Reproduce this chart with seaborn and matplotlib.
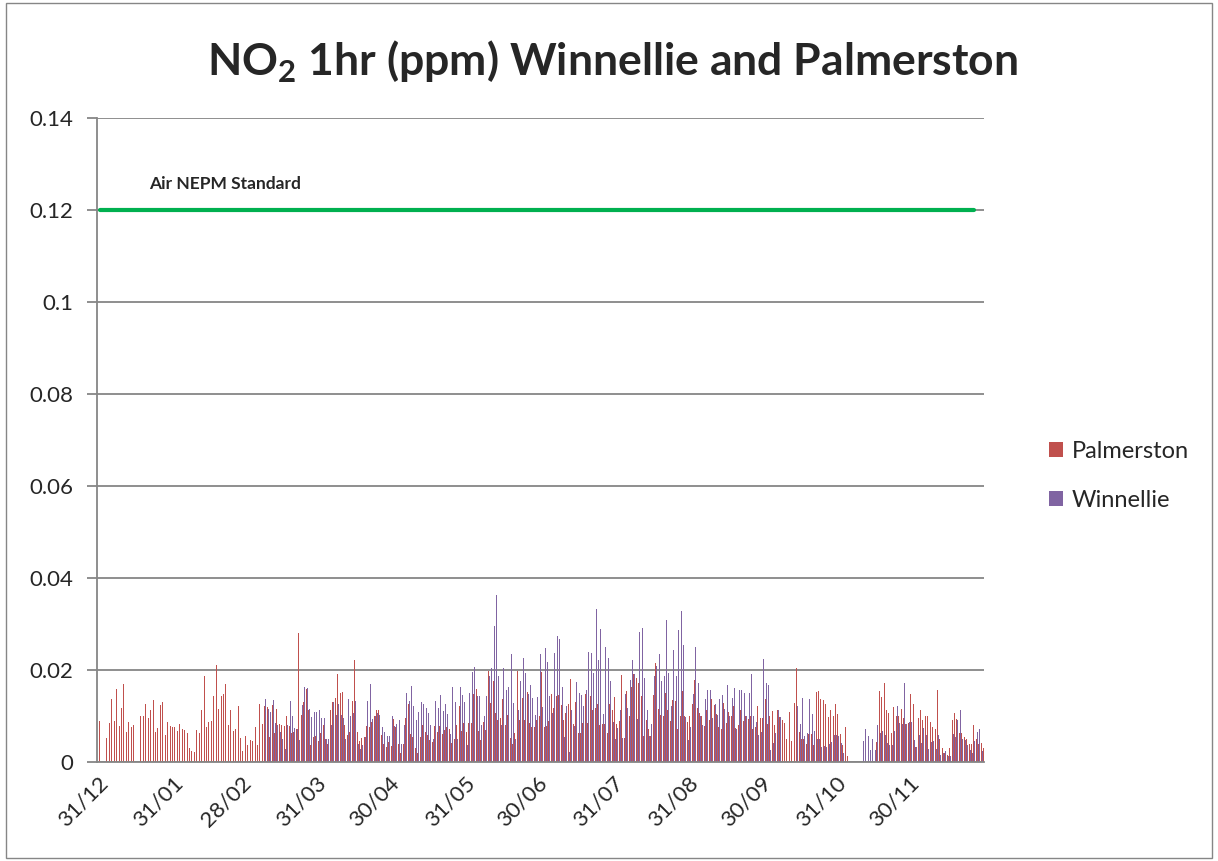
import numpy as np
import pandas as pd
import matplotlib
matplotlib.use("Agg")
import matplotlib.pyplot as plt
from matplotlib.patches import Patch, Rectangle
import seaborn as sns

# Daily maximum 1hr NO2, in ppb (converted to ppm below).
# One value per day from 1 Jan, None = no data that day
palmerston_ppb = [
    9.0, None, None, 5.3, 8.5, 13.8, 9.0, 15.8, 7.9, 11.8,
    17.0, 6.6, 8.8, 7.7, 8.1, None, None, 9.9, 9.9, 12.5,
    9.6, 11.2, 13.5, 6.6, 7.4, 12.3, 13.1, 5.9, 8.8, 7.8,
    7.5, 7.7, 6.7, 8.2, 7.1, 7.0, 6.2, 3.1, 2.3, 2.2,
    7.0, 6.4, 11.4, 18.7, 7.7, 8.6, 8.9, 14.3, 21.0, 11.6,
    14.3, 14.7, 16.9, 8.1, 11.2, 6.8, 7.2, 12.2, 5.3, 2.4,
    5.7, 3.7, 4.8, 4.6, 7.7, 3.7, 12.5, 8.3, 12.2, 12.0,
    5.5, 12.4, 6.3, 11.5, 8.3, 8.1, 7.8, 10.1, 7.9, 6.4,
    6.6, 7.2, 28.0, 10.3, 13.0, 15.9, 11.4, 3.7, 5.4, 5.7,
    4.6, 6.3, 8.0, 5.0, 4.0, 11.4, 13.1, 13.9, 19.1, 15.0,
    15.2, 8.1, 5.8, 6.6, 13.2, 22.2, 6.6, 4.6, 5.2, 5.4,
    7.8, 7.5, 8.7, 10.1, 11.4, 11.4, 5.9, 4.0, 3.3, 4.3,
    3.5, 9.3, 7.7, 4.0, 2.0, 4.0, 9.6, 12.5, 6.1, 5.4,
    3.0, 2.0, 5.5, 8.1, 6.5, 5.8, 4.8, 4.4, 7.9, 6.6,
    7.9, 6.1, 7.0, 7.7, 7.1, 4.2, 5.0, 8.0, 12.2, 6.8,
    8.4, 6.6, 8.5, 8.5, 14.7, 15.8, 6.8, 4.8, 8.6, 7.0,
    19.8, 12.8, 17.5, 10.6, 9.1, 9.6, 13.6, 8.1, 10.3, 5.2,
    4.0, 6.4, 19.7, 9.1, 13.9, 9.1, 15.2, 8.4, 7.7, 7.7,
    9.1, 10.1, 19.6, 7.7, 7.9, 9.0, 14.8, 11.7, 14.3, 14.5,
    12.3, 9.1, 10.7, 12.7, 18.1, 8.3, 13.0, 6.3, 6.4, 8.5,
    14.8, 8.4, 14.4, 11.2, 11.7, 12.5, 8.1, 8.2, 8.2, 6.4,
    12.7, 11.3, 14.1, 8.2, 9.0, 18.9, 5.3, 15.4, 10.0, 16.2,
    19.2, 18.3, 17.1, 14.4, 5.7, 9.1, 7.2, 5.7, 14.6, 21.5,
    11.6, 10.2, 10.1, 15.0, 11.3, 9.0, 13.5, 13.2, 7.2, 9.9,
    15.4, 10.1, 8.7, 10.0, 12.5, 17.8, 11.7, 10.7, 10.1, 7.8,
    11.3, 9.1, 13.8, 12.3, 10.4, 7.5, 7.2, 12.9, 8.4, 10.9,
    10.1, 12.2, 7.4, 8.1, 11.3, 9.0, 9.9, 9.4, 9.9, 7.2,
    7.7, 12.2, 9.5, 9.5, 13.8, 8.3, 10.1, 11.0, 8.0, 11.4,
    9.7, 9.1, 8.4, 5.1, 10.9, 4.6, 12.8, 20.4, 6.6, 5.0,
    5.0, 4.0, 6.0, 6.0, 3.7, 15.3, 15.5, 13.7, 13.5, 12.5,
    9.8, 11.2, 10.1, 12.5, 10.4, 6.1, 3.7, 7.5, 1.3, None,
    None, None, None, None, None, None, None, None, None, None,
    4.4, 15.5, 14.2, 17.1, 11.4, 10.7, 6.2, 12.0, 10.0, 10.0,
    11.6, 9.6, 8.3, 8.4, 14.8, 12.6, 3.3, 9.6, 11.2, 9.1,
    10.0, 9.9, 8.8, 7.5, 7.2, 15.7, 5.0, 3.0, 1.9, 1.5,
    3.0, 9.1, 10.6, 9.3, 6.2, 6.2, 5.4, 5.1, 4.0, 4.0,
    8.0, 4.9, 4.0, 4.2, 3.0,
]

winnellie_ppb = [None] * 68 + [
    13.8, 11.6,
    10.8, 13.4, 8.4, 8.0, 6.5, 4.9, 2.8, 8.0, 13.3, 10.0,
    7.4, 7.2, 4.7, 12.3, 16.2, 16.0, 11.6, 9.7, 10.8, 10.8,
    11.4, 9.6, 9.6, 5.0, 5.0, 8.1, 13.1, 10.3, 12.5, 10.3,
    9.5, 5.0, 13.6, 10.1, 10.6, 13.2, 4.0, 2.8, 3.6, 5.4,
    13.2, 16.9, 9.4, 10.0, 10.7, 10.3, 7.5, 6.6, 5.6, 5.7,
    10.0, 7.9, 8.3, 9.1, 4.0, 8.0, 14.9, 13.3, 16.5, 12.2,
    9.1, 10.9, 13.0, 12.5, 11.8, 10.6, 8.0, 5.0, 13.3, 11.7,
    14.5, 11.0, 12.5, 10.4, 6.0, 16.2, 13.0, 5.0, 16.4, 14.6,
    13.0, 3.6, 15.0, 19.6, 20.6, 14.3, 14.3, 8.1, 10.1, 14.3,
    18.8, 20.4, 29.6, 36.3, 18.8, 8.0, 20.4, 15.7, 16.2, 23.5,
    12.8, 5.0, 11.3, 17.7, 22.5, 19.4, 14.8, 16.7, 14.0, 10.3,
    14.2, 23.5, 12.0, 24.8, 21.7, 14.3, 10.6, 23.7, 27.4, 26.7,
    16.4, 5.4, 12.2, 2.2, 11.2, 7.9, 17.3, 15.0, 14.5, 12.1,
    15.7, 23.9, 23.8, 19.3, 33.3, 22.2, 28.8, 10.4, 25.1, 22.7,
    17.6, 8.8, 5.0, 7.4, 11.3, 5.2, 14.7, 11.7, 17.8, 22.2,
    19.2, 9.3, 28.3, 29.2, 18.2, 11.2, 5.7, 8.2, 18.6, 20.9,
    23.5, 17.5, 18.8, 30.9, 19.3, 12.2, 24.3, 18.7, 28.7, 32.9,
    25.4, 9.8, 4.8, 7.7, 14.7, 25.1, 17.2, 10.0, 8.0, 13.6,
    15.7, 15.7, 9.6, 12.6, 10.3, 13.6, 14.5, 11.5, 16.8, 10.1,
    13.9, 16.0, 7.1, 15.7, 15.7, 15.0, 10.0, 15.0, 19.1, 9.9,
    8.8, 5.9, 6.6, 22.4, 17.1, 16.7, 2.6, 4.1, 6.4, 11.3,
    9.8, None, None, None, None, None, None, 12.2, 8.3, 14.0,
    5.6, 6.3, 13.8, 10.4, 6.8, 5.1, 5.1, 3.3, 3.5, 3.3,
    3.9, 4.4, 5.9, 5.9, 5.7, 4.2, 2.0, None, None, None,
    None, None, None, None, 4.5, 7.2, 5.6, 2.7, 5.1, 2.6,
    8.1, 6.2, 6.7, 5.9, 4.2, 3.8, 3.8, 6.8, 12.2, 8.5,
    8.2, 17.2, 8.3, 8.7, 8.7, 4.8, 3.3, 5.8, 4.2, 7.3,
    5.8, 2.8, 4.4, 4.6, 2.9, 5.8, 1.5, 1.9, 2.3, 1.3,
    1.3, 6.0, 5.4, 9.1, 11.4, 5.1, 4.8, 3.7, 2.6, 1.9,
    4.6, 6.5, 7.2, 2.4, 2.0,
]

# NEPM 1hr standard, drawn from the first to the last plotted day of the line
standard_ppm = 0.12
standard_days = [0, 360]
tick_days = [-1, 30, 58, 89, 119, 150, 180, 211, 242, 272, 303, 333]
tick_labels = ['31/12', '31/01', '28/02', '31/03', '30/04', '31/05',
               '30/06', '31/07', '31/08', '30/09', '31/10', '30/11']
y_ticks = [0, 0.02, 0.04, 0.06, 0.08, 0.1, 0.12, 0.14]
y_labels = ['0', '0.02', '0.04', '0.06', '0.08', '0.1', '0.12', '0.14']
sites = ['Palmerston', 'Winnellie']
colors = {'Palmerston': '#C0504D', 'Winnellie': '#8064A2'}

n = len(palmerston_ppb)
assert len(winnellie_ppb) == n, (n, len(winnellie_ppb))
days = np.arange(n)

# long format table for seaborn
df = pd.DataFrame({
    'Day': np.concatenate([days, days]),
    'Site': ['Palmerston'] * n + ['Winnellie'] * n,
    'NO2': [np.nan if v is None else v / 1000 for v in palmerston_ppb + winnellie_ppb],
})
df = df.dropna()

sns.set_style("white")
plt.rcParams['font.family'] = ['Lato', 'DejaVu Sans']
plt.rcParams['mathtext.fontset'] = 'custom'
plt.rcParams['mathtext.rm'] = 'Lato:bold'
plt.rcParams['mathtext.bf'] = 'Lato:bold'

fig = plt.figure(figsize=(12.18, 8.61), dpi=100)
ax = fig.add_axes([0.0796, 0.115, 0.728, 0.748])

sns.barplot(data=df, x='Day', y='NO2', hue='Site', hue_order=sites,
            palette=colors, native_scale=True, errorbar=None, width=0.8,
            saturation=1, linewidth=0, legend=False, ax=ax)

# NEPM standard line
sns.lineplot(x=standard_days, y=[standard_ppm] * len(standard_days),
             color='#00B050', linewidth=3, ax=ax)
ax.text(20, 0.1245, 'Air NEPM Standard', fontsize=12.5, fontweight='bold')

ax.set_xlim(-1.3, 363.8)
ax.set_ylim(0, 0.14)
ax.set_yticks(y_ticks)
ax.set_yticklabels(y_labels, fontsize=16)
ax.set_xticks(tick_days)
ax.set_xticklabels(tick_labels, fontsize=16, rotation=45, ha='right',
                   rotation_mode='anchor')
ax.set_xlabel('')
ax.set_ylabel('')
ax.yaxis.grid(True, color='#868686', linewidth=1.3)
ax.set_axisbelow(True)
for side in ['top', 'right']:
    ax.spines[side].set_visible(False)
for side in ['left', 'bottom']:
    ax.spines[side].set_color('#868686')
    ax.spines[side].set_linewidth(1.3)
ax.tick_params(axis='y', direction='out', length=7, color='#868686', width=1.3, pad=10, left=True)
ax.tick_params(axis='x', direction='out', length=0, pad=8)

fig.text(0.503, 0.928, r'NO$_\mathbf{2}$ 1hr (ppm) Winnellie and Palmerston',
         ha='center', va='center', fontsize=32, fontweight='bold')

handles = [Patch(facecolor=colors[s], edgecolor='none') for s in sites]
fig.legend(handles, sites, loc='center left', bbox_to_anchor=(0.844, 0.447),
           frameon=False, fontsize=17, handlelength=0.6, handleheight=0.6,
           handletextpad=0.35, labelspacing=1.2)

# chart area border
fig.patches.append(Rectangle((0.005, 0.004), 0.99, 0.992, transform=fig.transFigure,
                             fill=False, edgecolor='#868686', linewidth=1))

fig.savefig('out.png', dpi=100)
